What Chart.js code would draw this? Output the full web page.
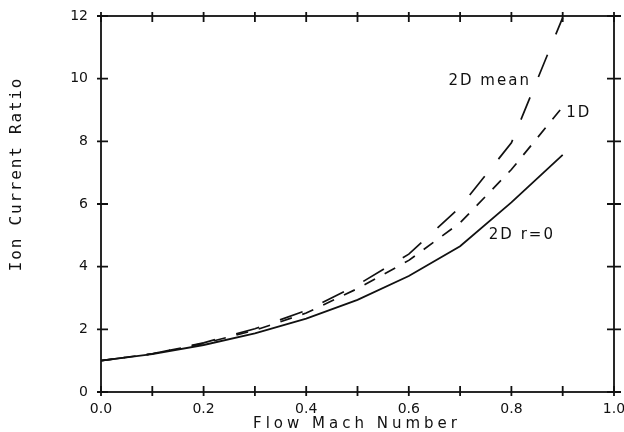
<!DOCTYPE html>
<html>
<head>
<meta charset="utf-8">
<script src="https://cdn.jsdelivr.net/npm/chart.js@4"></script>
<style>
  html, body { margin: 0; padding: 0; background: #fff; }
  #wrap { width: 624px; height: 432px; }
</style>
</head>
<body>
<div id="wrap"><canvas id="myChart" width="624" height="432"></canvas></div>
<script>
// flow Mach number samples
var mach = [0.0, 0.1, 0.2, 0.3, 0.4, 0.5, 0.6, 0.7, 0.8, 0.9];
// ion current ratio for each model
var ratioR0 = [1.00, 1.21, 1.50, 1.87, 2.34, 2.94, 3.70, 4.65, 6.05, 7.57];
var ratio1D = [1.00, 1.22, 1.55, 1.97, 2.52, 3.30, 4.20, 5.40, 7.10, 9.10];
var ratioMean = [1.00, 1.22, 1.57, 2.02, 2.60, 3.42, 4.40, 5.90, 7.95, 11.95];
// tick marks on the frame
var xTicks = [0.0, 0.1, 0.2, 0.3, 0.4, 0.5, 0.6, 0.7, 0.8, 0.9, 1.0];
var yTicks = [0, 2, 4, 6, 8, 10, 12];

function pts(ys) {
  return mach.map(function (m, i) { return { x: m, y: ys[i] }; });
}

var ink = '#111';

// box around the plot with ticks crossing every side, plus the text labels
var frame = {
  id: 'frame',
  afterDraw: function (chart) {
    var ctx = chart.ctx, a = chart.chartArea;
    var x = chart.scales.x, y = chart.scales.y;
    ctx.save();
    ctx.strokeStyle = ink;
    ctx.lineWidth = 1.8;
    ctx.strokeRect(a.left, a.top, a.right - a.left, a.bottom - a.top);
    ctx.beginPath();
    xTicks.forEach(function (v) {
      var px = x.getPixelForValue(v);
      ctx.moveTo(px, a.bottom + 4); ctx.lineTo(px, a.bottom - 6);
      ctx.moveTo(px, a.top - 4); ctx.lineTo(px, a.top + 6);
    });
    yTicks.forEach(function (v) {
      var py = y.getPixelForValue(v);
      ctx.moveTo(a.left - 4, py); ctx.lineTo(a.left + 7, py);
      ctx.moveTo(a.right - 7, py); ctx.lineTo(a.right + 7, py);
    });
    ctx.stroke();

    ctx.fillStyle = ink;
    ctx.textBaseline = 'middle';

    // curve labels
    ctx.font = '15px "DejaVu Sans"';
    ctx.letterSpacing = '2px';
    ctx.textAlign = 'right';
    ctx.fillText('2D mean', x.getPixelForValue(0.838), y.getPixelForValue(9.93));
    ctx.textAlign = 'left';
    ctx.fillText('1D', x.getPixelForValue(0.907), y.getPixelForValue(8.91));
    ctx.fillText('2D r=0', x.getPixelForValue(0.756), y.getPixelForValue(5.02));

    // axis titles
    ctx.textAlign = 'center';
    ctx.letterSpacing = '4px';
    ctx.fillText('Flow Mach Number', 357, 424);

    ctx.font = '16px "DejaVu Sans Mono"';
    ctx.letterSpacing = '1.8px';
    ctx.translate(17, 174);
    ctx.rotate(-Math.PI / 2);
    ctx.fillText('Ion Current Ratio', 0, 0);
    ctx.restore();
  }
};

var ctx = document.getElementById('myChart').getContext('2d');
var myChart = new Chart(ctx, {
  type: 'line',
  data: {
    datasets: [{
      label: '2D r=0',
      data: pts(ratioR0),
      borderColor: ink,
      borderWidth: 1.8
    }, {
      label: '1D',
      data: pts(ratio1D),
      borderColor: ink,
      borderWidth: 1.7,
      borderDash: [12, 11]
    }, {
      label: '2D mean',
      data: pts(ratioMean),
      borderColor: ink,
      borderWidth: 1.7,
      borderDash: [24, 22]
    }]
  },
  options: {
    responsive: false,
    animation: false,
    events: [],
    layout: { padding: { top: 16, right: 10, left: 0, bottom: 0 } },
    elements: {
      point: { radius: 0 },
      line: { tension: 0, fill: false }
    },
    plugins: {
      legend: { display: false },
      tooltip: { enabled: false }
    },
    scales: {
      x: {
        type: 'linear',
        min: 0,
        max: 1,
        grid: { display: false, drawTicks: false },
        border: { display: false },
        ticks: {
          stepSize: 0.2,
          padding: 9,
          color: ink,
          font: { family: 'DejaVu Sans', size: 14 },
          maxRotation: 0,
          callback: function (v) { return v.toFixed(1); }
        },
        afterFit: function (s) { s.height = 40; s.paddingLeft = 0; s.paddingRight = 0; }
      },
      y: {
        min: 0,
        max: 12,
        grid: { display: false, drawTicks: false },
        border: { display: false },
        ticks: {
          stepSize: 2,
          padding: 13,
          color: ink,
          font: { family: 'DejaVu Sans', size: 14 }
        },
        afterFit: function (s) { s.width = 101; s.paddingTop = 0; s.paddingBottom = 0; }
      }
    }
  },
  plugins: [frame]
});
</script>
</body>
</html>
